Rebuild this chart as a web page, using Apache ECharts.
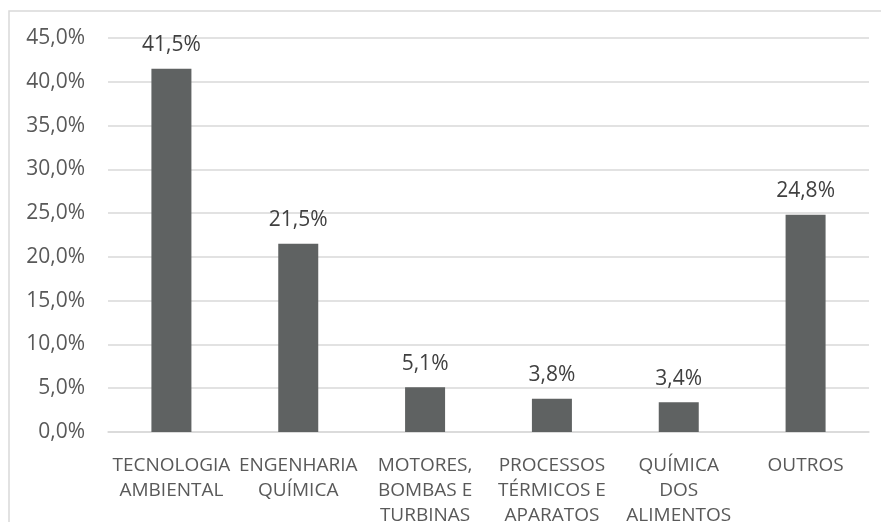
<!DOCTYPE html>
<html><head><meta charset="utf-8">
<script src="https://cdn.jsdelivr.net/npm/echarts@6/dist/echarts.min.js"></script>
<style>html,body{margin:0;padding:0;background:#fff}#c{width:881px;height:522px}</style>
</head><body><div id="c"></div>
<script>
const categories = ["TECNOLOGIA\nAMBIENTAL", "ENGENHARIA\nQUÍMICA", "MOTORES,\nBOMBAS E\nTURBINAS", "PROCESSOS\nTÉRMICOS E\nAPARATOS", "QUÍMICA\nDOS\nALIMENTOS", "OUTROS"];
const values = [41.5, 21.5, 5.1, 3.8, 3.4, 24.8];
const yMin = 0, yMax = 45, yStep = 5;
const fmt = v => v.toFixed(1).replace('.', ',') + '%';
const FONT = '"Open Sans", Lato, sans-serif';
const chart = echarts.init(document.getElementById('c'));
chart.setOption({
  animation: false,
  textStyle: { fontFamily: FONT },
  graphic: [{ type: 'rect', shape: { x: 9, y: 11, width: 1000, height: 700 }, style: { fill: 'none', stroke: '#d9d9d9', lineWidth: 1.5 }, silent: true }],
  grid: { left: 108, right: 12, top: 38, bottom: 90, containLabel: false, outerBoundsMode: 'none' },
  xAxis: {
    type: 'category', data: categories,
    axisLine: { lineStyle: { color: '#d9d9d9', width: 1.5 } },
    axisTick: { show: false },
    axisLabel: { interval: 0, color: '#595959', fontSize: 19, lineHeight: 25, margin: 21, fontFamily: FONT }
  },
  yAxis: {
    type: 'value', min: yMin, max: yMax, interval: yStep,
    axisLine: { show: false }, axisTick: { show: false },
    splitLine: { lineStyle: { color: '#d9d9d9', width: 1.5 } },
    axisLabel: { formatter: fmt, color: '#595959', fontSize: 21, margin: 23, fontFamily: FONT }
  },
  series: [{
    type: 'bar', data: values, barWidth: 40,
    itemStyle: { color: '#5f6262' },
    label: { show: true, position: 'top', distance: 13, formatter: p => fmt(p.value), color: '#404040', fontSize: 21, fontFamily: FONT }
  }]
});
</script></body></html>
